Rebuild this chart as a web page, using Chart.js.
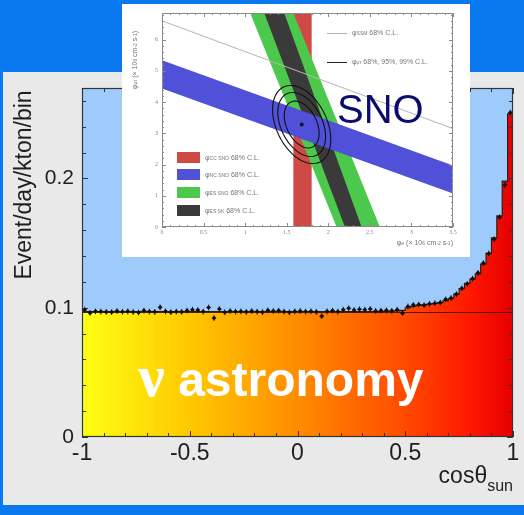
<!DOCTYPE html>
<html>
<head>
<meta charset="utf-8">
<title>cosθsun</title>
<script src="https://cdn.jsdelivr.net/npm/chart.js@4.4.1/dist/chart.umd.min.js"></script>
<style>
  html, body { margin: 0; padding: 0; }
  body {
    width: 524px; height: 515px; overflow: hidden; position: relative;
    background: #0a79ef;
    font-family: "Liberation Sans", Arial, sans-serif;
  }
  #panel { position: absolute; left: 3px; top: 72px; width: 521px; height: 433px; background: #e9e9e9; }
  #main { position: absolute; left: 0; top: 0; }
  #ytitle {
    position: absolute; left: -107px; top: 173px; width: 260px; height: 24px;
    line-height: 24px; text-align: center; transform: rotate(-90deg);
    font-size: 23px; color: #1e1e1e; white-space: nowrap;
  }
  #xtitle { position: absolute; right: 11px; top: 464px; font-size: 23px; line-height: 23px; color: #1e1e1e; }
  #xtitle span { font-size: 16px; position: relative; top: 8px; }
  #astro {
    position: absolute; left: 138px; top: 352px; color: #fff;
    font-weight: bold; font-size: 48px; line-height: 48px; white-space: nowrap;
  }
  #astro .nu { font-family: "Liberation Serif", serif; font-weight: bold; font-size: 60px; }
  #inset { position: absolute; left: 122px; top: 4px; width: 348px; height: 253px; background: #fff; filter: blur(0.5px); }
  #inset canvas { position: absolute; left: 0; top: 0; }
  #inset .lg { position: absolute; font-size: 7px; line-height: 8px; color: #777; white-space: nowrap; }
  #inset .box { position: absolute; width: 23px; height: 11px; }
  #inset .ln { position: absolute; width: 20px; }
  #inset .s { font-size: 5px; }
  #sno { position: absolute; left: 337px; top: 89px; font-size: 40px; line-height: 40px; color: #0c0c6e; }
</style>
</head>
<body>
<div id="panel"></div>
<canvas id="main" width="524" height="515"></canvas>
<div id="ytitle">Event/day/kton/bin</div>
<div id="xtitle">cosθ<span>sun</span></div>
<div id="astro"><span class="nu">ν</span> astronomy</div>

<div id="inset">
  <canvas id="flux" width="348" height="253"></canvas>
  <div class="ln" style="left:205px; top:29px; border-top:1px solid #b5b5b5;"></div>
  <div class="lg" style="left:230px; top:25px;">φ<span class="s">SSM</span> 68% C.L.</div>
  <div class="ln" style="left:205px; top:58px; border-top:1.5px solid #222;"></div>
  <div class="lg" style="left:230px; top:54px;">φ<span class="s">μτ</span> 68%, 95%, 99% C.L.</div>
  <div class="box" style="left:55px; top:148px; background:#d04a45;"></div>
  <div class="lg" style="left:83px; top:150px;">φ<span class="s">CC SNO</span> 68% C.L.</div>
  <div class="box" style="left:55px; top:165px; background:#5050d8;"></div>
  <div class="lg" style="left:83px; top:167px;">φ<span class="s">NC SNO</span> 68% C.L.</div>
  <div class="box" style="left:55px; top:183px; background:#4cc94c;"></div>
  <div class="lg" style="left:83px; top:185px;">φ<span class="s">ES SNO</span> 68% C.L.</div>
  <div class="box" style="left:55px; top:201px; background:#3a3a3a;"></div>
  <div class="lg" style="left:83px; top:203px;">φ<span class="s">ES SK</span> 68% C.L.</div>
  <div class="lg" style="left:-32px; top:52px; width:90px; text-align:center; transform:rotate(-90deg);">φ<span class="s">μτ</span> (× 10<span class="s">6</span> cm<span class="s">-2</span> s<span class="s">-1</span>)</div>
  <div class="lg" style="right:17px; top:235px;">φ<span class="s">e</span> (× 10<span class="s">6</span> cm<span class="s">-2</span> s<span class="s">-1</span>)</div>
</div>
<div id="sno">SNO</div>

<script>
// ---- angular distribution, 80 bins in cos(theta_sun) ----
const BIN_START = -1
const BIN_WIDTH = 0.025

// expected rate per bin (histogram)
const expected = [
  0.0970, 0.0970, 0.0970, 0.0970, 0.0970, 0.0970, 0.0970, 0.0970, 0.0970, 0.0970,
  0.0970, 0.0970, 0.0970, 0.0970, 0.0970, 0.0970, 0.0970, 0.0970, 0.0970, 0.0970,
  0.0970, 0.0970, 0.0970, 0.0970, 0.0970, 0.0970, 0.0970, 0.0970, 0.0970, 0.0970,
  0.0970, 0.0970, 0.0970, 0.0970, 0.0970, 0.0970, 0.0970, 0.0970, 0.0970, 0.0970,
  0.0970, 0.0970, 0.0970, 0.0970, 0.0970, 0.0970, 0.0970, 0.0970, 0.0970, 0.0970,
  0.0970, 0.0970, 0.0970, 0.0970, 0.0970, 0.0970, 0.0972, 0.0974, 0.0976, 0.0980,
  0.1000, 0.1010, 0.1018, 0.1022, 0.1028, 0.1033, 0.1040, 0.1055, 0.1070, 0.1105,
  0.1148, 0.1188, 0.1222, 0.1262, 0.1338, 0.1420, 0.1540, 0.1710, 0.1980, 0.2500,
]

// measured rate per bin (points)
const observed = [
  0.0985, 0.0960, 0.0972, 0.0970, 0.0968, 0.0966, 0.0975, 0.0969, 0.0972, 0.0967,
  0.0963, 0.0978, 0.0970, 0.0968, 0.1003, 0.0972, 0.0966, 0.0970, 0.0968, 0.0978,
  0.0985, 0.0982, 0.0970, 0.1002, 0.0920, 0.0990, 0.0965, 0.0975, 0.0970, 0.0972,
  0.0968, 0.0974, 0.0970, 0.0966, 0.0980, 0.0975, 0.0978, 0.0970, 0.0965, 0.0972,
  0.0975, 0.0970, 0.0973, 0.0968, 0.0935, 0.0972, 0.0978, 0.0970, 0.0985, 0.0996,
  0.0982, 0.0988, 0.0985, 0.0990, 0.0975, 0.0978, 0.0980, 0.0976, 0.0985, 0.0958,
  0.1010, 0.1022, 0.1025, 0.1020, 0.1030, 0.1035, 0.1040, 0.1065, 0.1075, 0.1105,
  0.1150, 0.1185, 0.1225, 0.1270, 0.1345, 0.1420, 0.1530, 0.1700, 0.1950, 0.2510,
]
const observedErr = 0.0022

const background = 0.0963

const xTicks = [-1, -0.5, 0, 0.5, 1]
const yTicks = [0, 0.1, 0.2]

// ---- SNO flux plane (phi_e vs phi_mu_tau) ----
const fluxXTicks = [0, 0.5, 1, 1.5, 2, 2.5, 3, 3.5]
const fluxYTicks = [0, 1, 2, 3, 4, 5, 6]
const FLUX_YMAX = 6.85

// band corners [phi_e, phi_mutau]
const ccBand = [[1.58, 0], [1.58, 6.85], [1.8, 6.85], [1.8, 0]]
const ncBand = [[0, 5.34], [3.5, 1.97], [3.5, 1.07], [0, 4.43]]
const esBand = [[1.06, 6.85], [1.58, 6.85], [2.62, 0], [2.1, 0]]
const skBand = [[1.23, 6.85], [1.47, 6.85], [2.4, 0], [2.2, 0]]
const ssmLine = [[0, 6.6], [3.5, 3.15]]

// best fit and its error contours (68, 95, 99 %)
const bestFit = [1.68, 3.28]
const fitSigma = [0.35, 1.25]
const fitCorr = -0.38
const contourLevels = [0.6, 0.82, 1.0]

const pts = (arr) => arr.map(([x, y]) => ({ x, y }))

// fills the area behind the datasets
const plotBg = {
  id: "plotBg",
  beforeDatasetsDraw(chart, args, opts) {
    const { ctx, chartArea: a } = chart
    ctx.save()
    ctx.fillStyle = opts.color
    ctx.fillRect(a.left, a.top, a.width, a.height)
    ctx.restore()
  },
}

// box around the plot with ticks pointing inwards on all four sides
const frameTicks = {
  id: "frameTicks",
  afterDatasetsDraw(chart, args, opts) {
    const { ctx, chartArea: a, scales: { x, y } } = chart
    ctx.save()
    ctx.strokeStyle = opts.color
    ctx.lineWidth = 1
    ctx.beginPath()
    const nx = Math.round((x.max - x.min) / opts.xStep)
    for (let i = 0; i <= nx; i++) {
      const v = x.min + i * opts.xStep
      const len = i % opts.xMajorEvery === 0 ? opts.majorLen : opts.len
      const px = Math.round(x.getPixelForValue(v)) + 0.5
      ctx.moveTo(px, a.bottom); ctx.lineTo(px, a.bottom - len)
      ctx.moveTo(px, a.top); ctx.lineTo(px, a.top + len)
    }
    const ny = Math.floor((y.max - y.min) / opts.yStep + 1e-6)
    for (let i = 0; i <= ny; i++) {
      const v = y.min + i * opts.yStep
      const len = i % opts.yMajorEvery === 0 ? opts.majorLen : opts.len
      const py = Math.round(y.getPixelForValue(v)) + 0.5
      ctx.moveTo(a.left, py); ctx.lineTo(a.left + len, py)
      ctx.moveTo(a.right, py); ctx.lineTo(a.right - len, py)
    }
    ctx.stroke()
    ctx.lineWidth = opts.frameWidth
    ctx.strokeRect(a.left + 0.5, a.top + 0.5, a.width - 1, a.height - 1)
    ctx.restore()
  },
}

// vertical and horizontal error bars on the measured points
const errorBars = {
  id: "errorBars",
  afterDatasetsDraw(chart) {
    const { ctx, scales: { x, y } } = chart
    ctx.save()
    ctx.strokeStyle = "#111"
    ctx.lineWidth = 1
    ctx.beginPath()
    observed.forEach((v, i) => {
      const c = BIN_START + (i + 0.5) * BIN_WIDTH
      const px = x.getPixelForValue(c)
      ctx.moveTo(px, y.getPixelForValue(v - observedErr))
      ctx.lineTo(px, y.getPixelForValue(v + observedErr))
      const py = y.getPixelForValue(v)
      ctx.moveTo(x.getPixelForValue(c - BIN_WIDTH * 0.4), py)
      ctx.lineTo(x.getPixelForValue(c + BIN_WIDTH * 0.4), py)
    })
    ctx.stroke()
    ctx.restore()
  },
}

// yellow -> orange -> red across the x range
function sunGradient(context) {
  const { chart } = context
  const a = chart.chartArea
  if (!a) return "#ff8c00"
  const g = chart.ctx.createLinearGradient(a.left, 0, a.right, 0)
  g.addColorStop(0, "#ffff14")
  g.addColorStop(0.25, "#ffc800")
  g.addColorStop(0.5, "#ff8c00")
  g.addColorStop(0.75, "#ff4a00")
  g.addColorStop(0.9, "#ff1800")
  g.addColorStop(1, "#e60000")
  return g
}

const histPoints = expected.map((v, i) => ({ x: BIN_START + i * BIN_WIDTH, y: v }))
histPoints.push({ x: BIN_START + expected.length * BIN_WIDTH, y: expected[expected.length - 1] })

const obsPoints = observed.map((v, i) => ({ x: BIN_START + (i + 0.5) * BIN_WIDTH, y: v }))

new Chart(document.getElementById("main"), {
  type: "scatter",
  data: {
    datasets: [
      {
        label: "data",
        data: obsPoints,
        pointRadius: 1.8,
        pointBackgroundColor: "#111",
        pointBorderWidth: 0,
      },
      {
        type: "line",
        label: "background",
        data: [{ x: -1, y: background }, { x: 1, y: background }],
        borderColor: "rgba(70,10,0,0.85)",
        borderWidth: 1.2,
        pointRadius: 0,
      },
      {
        type: "line",
        label: "expected",
        data: histPoints,
        stepped: true,
        fill: "origin",
        backgroundColor: sunGradient,
        borderColor: "#2b1d14",
        borderWidth: 1.2,
        pointRadius: 0,
      },
    ],
  },
  options: {
    responsive: false,
    animation: false,
    events: [],
    layout: { padding: { left: 0, top: 88, right: 11, bottom: 0 } },
    plugins: {
      legend: { display: false },
      tooltip: { enabled: false },
      plotBg: { color: "#9ecbfc" },
      frameTicks: { color: "#33343c", xStep: 0.1, yStep: 0.02, xMajorEvery: 5, yMajorEvery: 5, len: 4, majorLen: 6, frameWidth: 1.2 },
    },
    scales: {
      x: {
        type: "linear",
        min: -1,
        max: 1,
        afterBuildTicks: (s) => { s.ticks = xTicks.map((v) => ({ value: v })) },
        afterFit: (s) => { s.height = 78 },
        grid: { display: false, drawTicks: false },
        border: { display: false },
        ticks: {
          padding: 3,
          color: "#1e1e1e",
          font: { family: "Liberation Sans", size: 23 },
          callback: (v) => String(v),
        },
      },
      y: {
        min: 0,
        max: 0.27,
        afterBuildTicks: (s) => { s.ticks = yTicks.map((v) => ({ value: v })) },
        afterFit: (s) => { s.width = 82 },
        grid: { display: false, drawTicks: false },
        border: { display: false },
        ticks: {
          padding: 8,
          color: "#1e1e1e",
          font: { family: "Liberation Sans", size: 21 },
          callback: (v) => String(v),
        },
      },
    },
  },
  plugins: [plotBg, frameTicks, errorBars],
})

// confidence contours around the best fit point
const contours = {
  id: "contours",
  afterDatasetsDraw(chart) {
    const { ctx, scales: { x, y } } = chart
    ctx.save()
    ctx.strokeStyle = "#111"
    ctx.lineWidth = 1.1
    const k = Math.sqrt(1 - fitCorr * fitCorr)
    contourLevels.forEach((lev) => {
      ctx.beginPath()
      for (let t = 0; t <= 72; t++) {
        const a = (t / 72) * Math.PI * 2
        const ex = bestFit[0] + lev * fitSigma[0] * Math.cos(a)
        const ey = bestFit[1] + lev * fitSigma[1] * (fitCorr * Math.cos(a) + k * Math.sin(a))
        const px = x.getPixelForValue(ex)
        const py = y.getPixelForValue(ey)
        if (t === 0) ctx.moveTo(px, py)
        else ctx.lineTo(px, py)
      }
      ctx.stroke()
    })
    ctx.restore()
  },
}

const band = (corners, color) => ({
  type: "line",
  data: pts(corners),
  fill: "shape",
  backgroundColor: color,
  borderWidth: 0,
  pointRadius: 0,
})

new Chart(document.getElementById("flux"), {
  type: "scatter",
  data: {
    datasets: [
      { data: [{ x: bestFit[0], y: bestFit[1] }], pointRadius: 2, pointBackgroundColor: "#111", pointBorderWidth: 0 },
      { type: "line", data: pts(ssmLine), borderColor: "#b5b5b5", borderWidth: 1, pointRadius: 0 },
      band(ncBand, "#5050d8"),
      band(skBand, "#3a3a3a"),
      band(esBand, "#4cc94c"),
      band(ccBand, "#d04a45"),
    ],
  },
  options: {
    responsive: false,
    animation: false,
    events: [],
    layout: { padding: { left: 0, top: 9, right: 17, bottom: 0 } },
    plugins: {
      legend: { display: false },
      tooltip: { enabled: false },
      plotBg: { color: "#ffffff" },
      frameTicks: { color: "#8a8a8a", xStep: 0.1, yStep: 0.2, xMajorEvery: 5, yMajorEvery: 5, len: 2, majorLen: 4, frameWidth: 1 },
    },
    scales: {
      x: {
        type: "linear",
        min: 0,
        max: 3.5,
        afterBuildTicks: (s) => { s.ticks = fluxXTicks.map((v) => ({ value: v })) },
        afterFit: (s) => { s.height = 30 },
        grid: { display: false, drawTicks: false },
        border: { display: false },
        ticks: { padding: 2, color: "#888", font: { family: "Liberation Serif", size: 6 }, callback: (v) => String(v) },
      },
      y: {
        min: 0,
        max: FLUX_YMAX,
        afterBuildTicks: (s) => { s.ticks = fluxYTicks.map((v) => ({ value: v })) },
        afterFit: (s) => { s.width = 40 },
        grid: { display: false, drawTicks: false },
        border: { display: false },
        ticks: { padding: 4, color: "#888", font: { family: "Liberation Serif", size: 6 }, callback: (v) => String(v) },
      },
    },
  },
  plugins: [plotBg, frameTicks, contours],
})
</script>
</body>
</html>
